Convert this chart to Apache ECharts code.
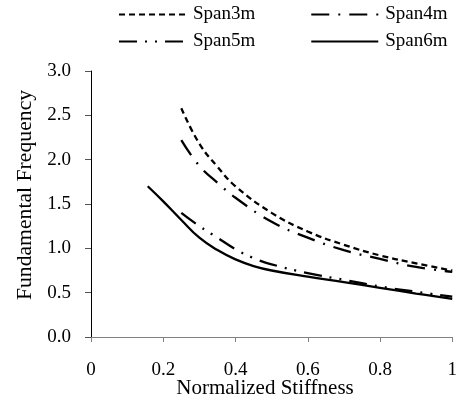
<!DOCTYPE html>
<html>
<head>
<meta charset="utf-8">
<script src="https://cdn.jsdelivr.net/npm/echarts@6/dist/echarts.min.js"></script>
<style>
  html, body { margin: 0; padding: 0; background: #fff; }
  #chart { width: 460px; height: 398px; }
</style>
</head>
<body>
<div id="chart"></div>
<script>
// Fundamental frequency vs. normalized stiffness for four spans
const span3mX = [0.25, 0.30, 0.35, 0.40, 0.50, 0.60, 0.70, 0.80, 0.90, 1.00];
const span3mY = [2.58, 2.18, 1.92, 1.70, 1.40, 1.19, 1.04, 0.92, 0.83, 0.75];

const span4mX = [0.25, 0.30, 0.35, 0.40, 0.50, 0.60, 0.70, 0.80, 0.90, 1.00];
const span4mY = [2.22, 1.93, 1.74, 1.57, 1.30, 1.12, 0.98, 0.88, 0.79, 0.735];

const span5mX = [0.25, 0.30, 0.35, 0.40, 0.45, 0.50, 0.60, 0.70, 0.80, 0.90, 1.00];
const span5mY = [1.40, 1.25, 1.12, 0.99, 0.89, 0.82, 0.72, 0.645, 0.57, 0.51, 0.455];

const span6mX = [0.157, 0.20, 0.25, 0.30, 0.35, 0.40, 0.45, 0.50, 0.60, 0.70, 0.80, 0.90, 1.00];
const span6mY = [1.70, 1.53, 1.32, 1.12, 0.98, 0.875, 0.80, 0.75, 0.68, 0.62, 0.555, 0.49, 0.43];

const seriesNames = ['Span3m', 'Span4m', 'Span5m', 'Span6m'];
const yTicks = [0, 0.5, 1.0, 1.5, 2.0, 2.5, 3.0];

const FONT = '"Liberation Serif", "Times New Roman", serif';

function pairs(xs, ys) {
  return xs.map((x, i) => [x, ys[i]]);
}

function lineSeries(name, xs, ys, dash) {
  return {
    name: name,
    type: 'line',
    data: pairs(xs, ys),
    smooth: 0.45,
    symbol: 'none',
    showSymbol: false,
    lineStyle: { color: '#000', width: 2.3, type: dash, cap: 'butt' },
    itemStyle: { color: '#000' },
    emphasis: { disabled: true },
    animation: false
  };
}

const chart = echarts.init(document.getElementById('chart'), null, { renderer: 'canvas' });

const legendCommon = {
  orient: 'horizontal',
  padding: 0,
  itemWidth: 67,
  itemHeight: 14,
  itemGap: 55,
  itemStyle: { opacity: 0 },
  textStyle: { fontFamily: FONT, fontSize: 19, color: '#000', padding: [0, 0, 0, 2] },
  selectedMode: false
};

chart.setOption({
  animation: false,
  backgroundColor: '#fff',
  grid: { left: 91, right: 5, top: 71, bottom: 61, containLabel: false },
  legend: [
    Object.assign({}, legendCommon, { data: ['Span3m', 'Span4m'], left: 118, top: 5 }),
    Object.assign({}, legendCommon, { data: ['Span5m', 'Span6m'], left: 118, top: 32 })
  ],
  xAxis: {
    type: 'value',
    min: 0,
    max: 1,
    interval: 0.2,
    axisLine: { show: true, onZero: false, lineStyle: { color: '#808080', width: 1 } },
    axisTick: { show: true, inside: false, length: 5, lineStyle: { color: '#808080' } },
    splitLine: { show: false },
    axisLabel: {
      margin: 24,
      fontFamily: FONT,
      fontSize: 19,
      color: '#000',
      formatter: v => String(Math.round(v * 10) / 10)
    }
  },
  yAxis: {
    type: 'value',
    min: yTicks[0],
    max: yTicks[yTicks.length - 1],
    interval: 0.5,
    axisLine: { show: true, lineStyle: { color: '#000', width: 1 } },
    axisTick: { show: true, inside: false, length: 6, lineStyle: { color: '#555' } },
    splitLine: { show: false },
    axisLabel: {
      margin: 20,
      fontFamily: FONT,
      fontSize: 19,
      color: '#000',
      formatter: v => v.toFixed(1)
    }
  },
  graphic: [
    {
      type: 'text',
      x: 265,
      y: 388,
      style: {
        text: 'Normalized Stiffness',
        fontFamily: FONT,
        fontSize: 21,
        fill: '#000',
        align: 'center',
        verticalAlign: 'middle'
      }
    },
    {
      type: 'text',
      x: 25,
      y: 195,
      rotation: Math.PI / 2,
      style: {
        text: 'Fundamental Frequency',
        fontFamily: FONT,
        fontSize: 21.7,
        fill: '#000',
        align: 'center',
        verticalAlign: 'middle'
      }
    }
  ],
  series: [
    lineSeries(seriesNames[0], span3mX, span3mY, [6, 4]),
    lineSeries(seriesNames[1], span4mX, span4mY, [18, 9, 2, 9]),
    lineSeries(seriesNames[2], span5mX, span5mY, [18, 8, 2, 8, 2, 8]),
    lineSeries(seriesNames[3], span6mX, span6mY, 'solid')
  ]
});
</script>
</body>
</html>
